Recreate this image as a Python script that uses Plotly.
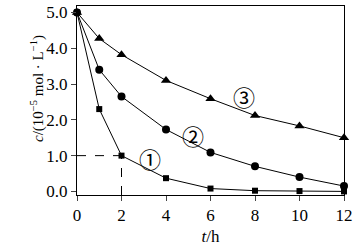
import plotly.graph_objects as go

t = [0, 1, 2, 4, 6, 8, 10, 12]
c1 = [5.0, 2.3, 1.0, 0.37, 0.08, 0.02, 0.01, 0.0]
c2 = [5.0, 3.4, 2.65, 1.73, 1.09, 0.7, 0.4, 0.15]
c3 = [5.0, 4.27, 3.82, 3.1, 2.59, 2.12, 1.83, 1.5]
labels = ["①", "②", "③"]
label_x = [3.3, 5.2, 7.5]
label_y = [0.92, 1.57, 2.67]
xticks = [0, 2, 4, 6, 8, 10, 12]
yticks = [0.0, 1.0, 2.0, 3.0, 4.0, 5.0]

FONT = "Liberation Serif, Times New Roman, serif"
fig = go.Figure()
for c, sym, sz in [(c1, "square", 6), (c2, "circle", 8), (c3, "triangle-up", 9)]:
    fig.add_trace(go.Scatter(x=t, y=c, mode="lines+markers",
                             line=dict(color="black", width=1),
                             marker=dict(symbol=sym, size=sz, color="black"),
                             showlegend=False, cliponaxis=False))

y_min = -0.1
# dashed guide lines at the 2 h point of series 1
fig.add_shape(type="line", x0=t[0], x1=t[2], y0=c1[2], y1=c1[2],
              line=dict(color="black", width=1, dash="dash"))
fig.add_shape(type="line", x0=t[2], x1=t[2], y0=y_min, y1=c1[2],
              line=dict(color="black", width=1, dash="dash"))

for lab, lx, ly in zip(labels, label_x, label_y):
    fig.add_annotation(x=lx, y=ly, text=lab, showarrow=False,
                       font=dict(size=22, color="black", family="Noto Sans CJK SC"))

fig.add_annotation(xref="paper", yref="paper", x=-0.15, y=0.566, xanchor="center", yanchor="middle",
                   text="<i>c</i>/(10<sup>−5</sup> mol · L<sup>−1</sup>)", textangle=-90,
                   showarrow=False, font=dict(size=15, family=FONT, color="black"))

fig.update_layout(
    width=358, height=246,
    margin=dict(l=77, r=14, t=4, b=46),
    paper_bgcolor="white", plot_bgcolor="white",
    font=dict(family=FONT, color="black", size=16),
)
fig.update_xaxes(range=[0, 12], tickvals=xticks, ticks="outside", ticklen=5,
                 showline=True, linecolor="black", linewidth=1, mirror=True,
                 showgrid=False, zeroline=False, tickfont=dict(size=17, family=FONT),
                 title=dict(text="<i>t</i>/h", font=dict(size=17, family=FONT), standoff=5))
fig.update_yaxes(range=[y_min, 5.18], tickvals=yticks, tickformat=".1f",
                 ticks="outside", ticklen=5,
                 showline=True, linecolor="black", linewidth=1, mirror=True,
                 showgrid=False, zeroline=False, tickfont=dict(size=17, family=FONT))
fig.write_html("out.html")
